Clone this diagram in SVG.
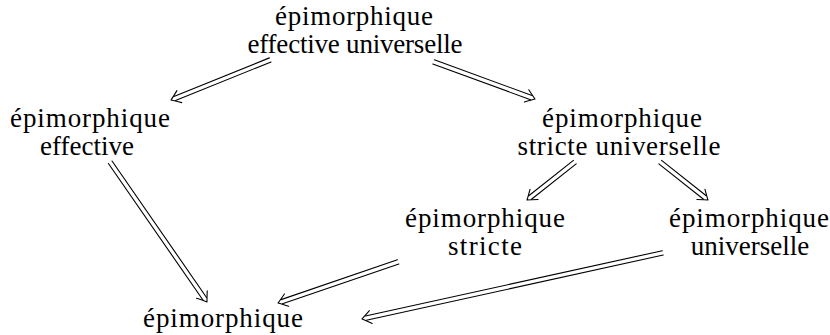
<svg xmlns="http://www.w3.org/2000/svg" width="830" height="335" viewBox="0 0 830 335">
<style>
.c line{stroke:#000;stroke-width:1.1;fill:none;stroke-linecap:round}
#hd{stroke:#000;stroke-width:1.1;fill:none;stroke-linecap:round;stroke-linejoin:round}
</style>
<rect width="830" height="335" fill="#fff"/>
<g font-family="Liberation Serif, Tinos, Times New Roman, DejaVu Serif, serif" font-size="27" text-anchor="middle" fill="#000">
<g id="n-top"><text x="354" y="25" textLength="158">épimorphique</text><text x="355" y="53" textLength="215">effective universelle</text></g>
<g id="n-eff"><text x="90" y="127" textLength="160">épimorphique</text><text x="87" y="155">effective</text></g>
<g id="n-su"><text x="622" y="127" textLength="160">épimorphique</text><text x="619" y="155" textLength="203">stricte universelle</text></g>
<g id="n-str"><text x="485" y="227" textLength="160">épimorphique</text><text x="485" y="255" textLength="74">stricte</text></g>
<g id="n-uni"><text x="749" y="227" textLength="160">épimorphique</text><text x="750" y="255">universelle</text></g>
<g id="n-bot"><text x="223" y="327" textLength="160">épimorphique</text></g>
</g>
<defs>
<path id="hd" d="M-9,-6.5 Q-3,-2 0,0 Q-3,2 -9,6.5"/>
</defs>
<g id="connectors" class="c">
<g transform="translate(171,100) rotate(158)"><line x1="-107" y1="-2.2" x2="-4" y2="-2.2"/><line x1="-107" y1="2.2" x2="-4" y2="2.2"/><use href="#hd"/></g>
<g transform="translate(535,99) rotate(20.1)"><line x1="-108" y1="-2.2" x2="-4" y2="-2.2"/><line x1="-108" y1="2.2" x2="-4" y2="2.2"/><use href="#hd"/></g>
<g transform="translate(207,302) rotate(55.3)"><line x1="-170" y1="-2.2" x2="-4" y2="-2.2"/><line x1="-170" y1="2.2" x2="-4" y2="2.2"/><use href="#hd"/></g>
<g transform="translate(527,200) rotate(141.6)"><line x1="-61" y1="-2.2" x2="-4" y2="-2.2"/><line x1="-61" y1="2.2" x2="-4" y2="2.2"/><use href="#hd"/></g>
<g transform="translate(708,200) rotate(38.4)"><line x1="-61" y1="-2.2" x2="-4" y2="-2.2"/><line x1="-61" y1="2.2" x2="-4" y2="2.2"/><use href="#hd"/></g>
<g transform="translate(278,303) rotate(161.1)"><line x1="-127" y1="-2.2" x2="-4" y2="-2.2"/><line x1="-127" y1="2.2" x2="-4" y2="2.2"/><use href="#hd"/></g>
<g transform="translate(362,319) rotate(167.6)"><line x1="-308" y1="-2.2" x2="-4" y2="-2.2"/><line x1="-308" y1="2.2" x2="-4" y2="2.2"/><use href="#hd"/></g>
</g>
</svg>
